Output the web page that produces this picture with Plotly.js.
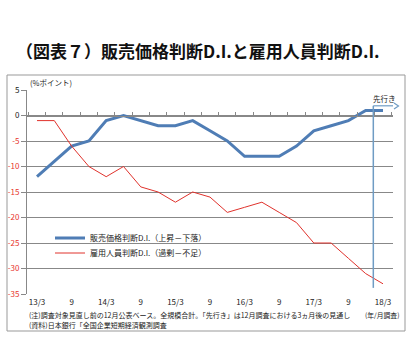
<!DOCTYPE html>
<html><head><meta charset="utf-8">
<script src="https://cdn.plot.ly/plotly-3.0.1.min.js"></script>
<style>body{margin:0;background:#fff}#chart{width:416px;height:350px}</style>
</head><body><div id="chart"></div>
<script>
const quarters = ['13/3','13/6','13/9','13/12','14/3','14/6','14/9','14/12','15/3','15/6','15/9','15/12','16/3','16/6','16/9','16/12','17/3','17/6','17/9','17/12','18/3'];
const salesPriceDI = [-12,-9,-6,-5,-1,0,-1,-2,-2,-1,-3,-5,-8,-8,-8,-6,-3,-2,-1,1,1];
const employmentDI = [-1,-1,-6,-10,-12,-10,-14,-15,-17,-15,-16,-19,-18,-17,-19,-21,-25,-25,-28,-31,-33];
const xTickVals = ['13/3','13/9','14/3','14/9','15/3','15/9','16/3','16/9','17/3','17/9','18/3'];
const xTickLabels = ['13/3','9','14/3','9','15/3','9','16/3','9','17/3','9','18/3'];
const yTickVals = [5,0,-5,-10,-15,-20,-25,-30,-35];
const seriesNames = ['販売価格判断D.I.（上昇－下落）','雇用人員判断D.I.（過剰－不足）'];

const FONT = '"Noto Sans CJK JP", "Noto Sans", sans-serif';
const yTickText = yTickVals.map(v => v < 0 ? '<span style="color:#e8352e">' + v + '</span>' : String(v));
const boundaryTicks = quarters.map((q, i) => i - 0.5).concat([quarters.length - 0.5]);
const xRange = [-0.578, quarters.length - 1 + 0.578];

const traces = [
  {x: quarters, y: salesPriceDI, name: seriesNames[0], type: 'scatter', mode: 'lines',
   line: {color: '#4f7db5', width: 3}, legend: 'legend'},
  {x: quarters, y: employmentDI, name: seriesNames[1], type: 'scatter', mode: 'lines',
   line: {color: '#e0322c', width: 1}, legend: 'legend2'}
];

const P = (px) => (px - 27) / 366;
const Q = (py) => (294 - py) / 204;
const legendBase = {xanchor: 'left', yanchor: 'middle', bgcolor: 'rgba(0,0,0,0)',
                    font: {family: FONT, size: 8, color: '#222'}, itemwidth: 30};

const layout = {
  width: 416, height: 350,
  margin: {l: 27, r: 23, t: 90, b: 56},
  paper_bgcolor: '#fff', plot_bgcolor: '#fff',
  font: {family: FONT, size: 8, color: '#222'},
  title: {text: '（図表７）販売価格判断D.I.と雇用人員判断D.I.', font: {family: FONT, size: 17, color: '#111', weight: 'bold'},
          x: 16/416, xanchor: 'left', xref: 'container', y: 1 - 52/350, yanchor: 'middle', yref: 'container'},
  showlegend: true,
  legend: Object.assign({x: P(50), y: Q(238)}, legendBase),
  legend2: Object.assign({x: P(50), y: Q(253)}, legendBase),
  xaxis: {type: 'category', range: xRange, tickmode: 'array', tickvals: xTickVals, ticktext: xTickLabels,
          showgrid: false, zeroline: false, showline: false, ticks: '', ticklabelstandoff: 2,
          tickfont: {size: 8, color: '#222'}},
  xaxis2: {overlaying: 'x', type: 'linear', range: xRange, anchor: 'free', position: 35/40, side: 'top',
           showline: true, linecolor: '#888', linewidth: 1, ticks: 'outside', ticklen: 4, tickcolor: '#888',
           tickmode: 'array', tickvals: boundaryTicks, showticklabels: false, showgrid: false, zeroline: false},
  yaxis: {range: [-35, 5], tickmode: 'array', tickvals: yTickVals, ticktext: yTickText,
          showgrid: true, gridcolor: '#888', gridwidth: 1, zeroline: false,
          showline: true, linecolor: '#888', ticks: 'outside', ticklen: 5, tickcolor: '#888',
          tickfont: {size: 8, color: '#222'}},
  shapes: [
    {type: 'rect', xref: 'paper', yref: 'paper', x0: P(7), x1: P(405), y0: Q(331), y1: Q(75),
     line: {color: '#999', width: 1}},
    {type: 'line', xref: 'x2', yref: 'y', x0: 19.44, x1: 19.44, y0: 1.9, y1: -33.8,
     line: {color: '#6f9cc4', width: 1.5}},
    {type: 'line', xref: 'x2', yref: 'y', x0: 19.44, x1: 20.85, y0: 1.9, y1: 1.9,
     line: {color: '#6f9cc4', width: 1.2}},
    {type: 'path', xref: 'paper', yref: 'paper',
     path: 'M' + P(394) + ',' + Q(103) + ' L' + P(398.5) + ',' + Q(106) + ' L' + P(394) + ',' + Q(109),
     line: {color: '#6f9cc4', width: 1.2}}
  ],
  annotations: [
    {text: '(%ポイント)', xref: 'paper', yref: 'paper', x: P(28), y: Q(83), xanchor: 'left', yanchor: 'middle',
     showarrow: false, font: {size: 7.5, color: '#222'}},
    {text: '先行き', xref: 'paper', yref: 'paper', x: P(384), y: Q(98), xanchor: 'center', yanchor: 'middle',
     showarrow: false, font: {size: 7.5, color: '#222'}},
    {text: '(注)調査対象見直し前の12月公表ベース。全規模合計。「先行き」は12月調査における3ヵ月後の見通し',
     xref: 'paper', yref: 'paper', x: P(27), y: Q(314.5), xanchor: 'left', yanchor: 'middle',
     showarrow: false, font: {size: 7.0, color: '#222'}},
    {text: '(資料)日本銀行「全国企業短期経済観測調査', xref: 'paper', yref: 'paper', x: P(27), y: Q(325),
     xanchor: 'left', yanchor: 'middle', showarrow: false, font: {size: 7.0, color: '#222'}},
    {text: '(年/月調査)', xref: 'paper', yref: 'paper', x: P(401), y: Q(314.5), xanchor: 'right', yanchor: 'middle',
     showarrow: false, font: {size: 6.8, color: '#222'}}
  ]
};

Plotly.newPlot('chart', traces, layout, {displayModeBar: false, staticPlot: true});
</script></body></html>
